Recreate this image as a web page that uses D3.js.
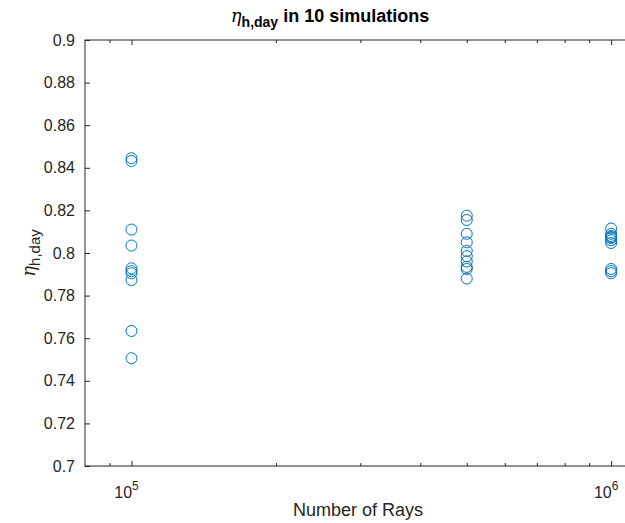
<!DOCTYPE html>
<html>
<head>
<meta charset="utf-8">
<script src="https://cdn.jsdelivr.net/npm/d3@7"></script>
<style>
  html, body { margin: 0; padding: 0; background: #fff; }
  svg { display: block; font-family: "Liberation Sans", Arial, sans-serif; }
</style>
</head>
<body>
<svg id="chart" width="625" height="523"></svg>
<script>
// Ray counts used in the runs
const rayCounts = [1e5, 5e5, 1e6];

// Daily heliostat efficiency from 10 simulations per ray count
const eta1e5 = [0.8445, 0.8432, 0.8110, 0.8035, 0.7928, 0.7915, 0.7905, 0.7873, 0.7634, 0.7506];
const eta5e5 = [0.8175, 0.8155, 0.8090, 0.8050, 0.8010, 0.7985, 0.7960, 0.7935, 0.7925, 0.7880];
const eta1e6 = [0.8115, 0.8090, 0.8080, 0.8075, 0.8070, 0.8060, 0.8047, 0.7925, 0.7915, 0.7905];

const yTicks = [0.7, 0.72, 0.74, 0.76, 0.78, 0.8, 0.82, 0.84, 0.86, 0.88, 0.9];
const xMajorTicks = [1e5, 1e6];
const xMinorTicks = [9e4, 2e5, 3e5, 4e5, 5e5, 6e5, 7e5, 8e5, 9e5];

const points = [];
[eta1e5, eta5e5, eta1e6].forEach((arr, i) => arr.forEach(v => points.push({ n: rayCounts[i], eta: v })));

const plotLeft = 85, plotRight = 631, plotTop = 40, plotBottom = 466;
const axisColor = "#262626";
const markerColor = "#0072BD";
const greek = "'DejaVu Serif', 'Liberation Serif', serif";

const svg = d3.select("#chart");

const x = d3.scaleLog().domain([8e4, 1.1e6]).range([plotLeft, plotRight]);
const y = d3.scaleLinear().domain([0.7, 0.9]).range([plotBottom, plotTop]);

const tickLen = 5;

// Box
svg.append("rect")
  .attr("x", plotLeft).attr("y", plotTop)
  .attr("width", plotRight - plotLeft).attr("height", plotBottom - plotTop)
  .attr("fill", "none").attr("stroke", axisColor).attr("stroke-width", 1);

// Y axis (left) with inward ticks
const yAxisL = svg.append("g").attr("transform", `translate(${plotLeft},0)`)
  .call(d3.axisLeft(y).tickValues(yTicks).tickSize(-tickLen).tickPadding(10)
    .tickFormat(d => String(+d.toFixed(2))));
yAxisL.select(".domain").remove();
yAxisL.selectAll("line").attr("stroke", axisColor);
yAxisL.selectAll("text").attr("fill", axisColor).style("font-size", "16px");

// Y axis (right) ticks only
const yAxisR = svg.append("g").attr("transform", `translate(${plotRight},0)`)
  .call(d3.axisRight(y).tickValues(yTicks).tickSize(-tickLen).tickFormat(""));
yAxisR.select(".domain").remove();
yAxisR.selectAll("line").attr("stroke", axisColor);

// X axis (bottom) major ticks with inward marks
const xAxisB = svg.append("g").attr("transform", `translate(0,${plotBottom})`)
  .call(d3.axisBottom(x).tickValues(xMajorTicks).tickSize(-tickLen).tickFormat(""));
xAxisB.select(".domain").remove();
xAxisB.selectAll("line").attr("stroke", axisColor);

// X minor ticks (bottom and top)
const xMinorB = svg.append("g").attr("transform", `translate(0,${plotBottom})`)
  .call(d3.axisBottom(x).tickValues(xMinorTicks).tickSize(-3).tickFormat(""));
xMinorB.select(".domain").remove();
xMinorB.selectAll("line").attr("stroke", axisColor);

const xAxisT = svg.append("g").attr("transform", `translate(0,${plotTop})`)
  .call(d3.axisTop(x).tickValues(xMajorTicks).tickSize(-tickLen).tickFormat(""));
xAxisT.select(".domain").remove();
xAxisT.selectAll("line").attr("stroke", axisColor);

const xMinorT = svg.append("g").attr("transform", `translate(0,${plotTop})`)
  .call(d3.axisTop(x).tickValues(xMinorTicks).tickSize(-3).tickFormat(""));
xMinorT.select(".domain").remove();
xMinorT.selectAll("line").attr("stroke", axisColor);

// Power-of-ten labels
const xLabels = svg.append("g");
xMajorTicks.forEach(v => {
  const t = xLabels.append("text")
    .attr("x", x(v) - 5).attr("y", plotBottom + 32)
    .attr("text-anchor", "middle")
    .attr("fill", axisColor)
    .style("font-size", "16px");
  t.append("tspan").text("10");
  t.append("tspan").attr("dy", -8).style("font-size", "12px").text(Math.round(Math.log10(v)));
});

// Axis labels
svg.append("text")
  .attr("x", (plotLeft + plotRight) / 2).attr("y", plotBottom + 50)
  .attr("text-anchor", "middle").attr("fill", axisColor)
  .style("font-size", "18px")
  .text("Number of Rays");

const yl = svg.append("text")
  .attr("transform", `translate(35,${(plotTop + plotBottom) / 2}) rotate(-90)`)
  .attr("text-anchor", "middle").attr("fill", axisColor)
  .style("font-size", "18px");
yl.append("tspan").style("font-family", greek).style("font-style", "italic").text("η");
yl.append("tspan").attr("dy", 5).style("font-size", "15px").text("h,day");

// Title
const title = svg.append("text")
  .attr("x", 330).attr("y", 22)
  .attr("text-anchor", "middle").attr("fill", "#000")
  .style("font-size", "18px").style("font-weight", "bold");
title.append("tspan").style("font-family", greek).style("font-style", "italic").style("font-weight", "normal").text("η");
title.append("tspan").attr("dy", 5).style("font-size", "14px").text("h,day");
title.append("tspan").attr("dy", -5).text(" in 10 simulations");

// Markers
svg.append("g").selectAll("circle")
  .data(points).join("circle")
  .attr("cx", d => x(d.n))
  .attr("cy", d => y(d.eta))
  .attr("r", 5.5)
  .attr("fill", "none")
  .attr("stroke", markerColor)
  .attr("stroke-width", 1);
</script>
</body>
</html>
